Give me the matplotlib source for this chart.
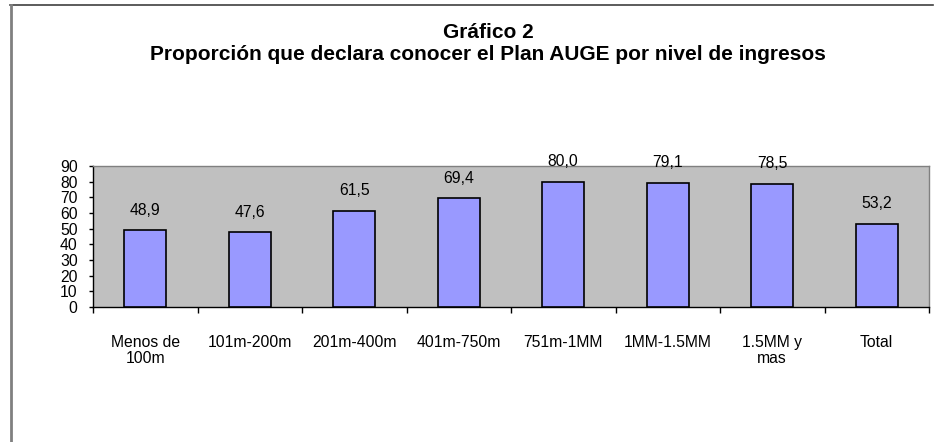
import matplotlib
matplotlib.use("Agg")
import matplotlib.pyplot as plt
from matplotlib.lines import Line2D

plt.rcParams['font.family'] = ['Liberation Sans', 'DejaVu Sans']

categories = ["Menos de\n100m", "101m-200m", "201m-400m", "401m-750m",
              "751m-1MM", "1MM-1.5MM", "1.5MM y\nmas", "Total"]
values = [48.9, 47.6, 61.5, 69.4, 80.0, 79.1, 78.5, 53.2]
yticks = [0, 10, 20, 30, 40, 50, 60, 70, 80, 90]
title_lines = ["Gráfico 2",
               "Proporción que declara conocer el Plan AUGE por nivel de ingresos"]

W, H = 934, 442
fig = plt.figure(figsize=(W / 100, H / 100), dpi=100)
ax = fig.add_axes([93 / W, 1 - 307 / H, (929 - 93) / W, (307 - 166) / H])
ax.set_facecolor('#c0c0c0')

x = list(range(len(categories)))
ax.bar(x, values, width=0.4, color='#9999ff', edgecolor='black', linewidth=1.2, zorder=3)
for xi, v in zip(x, values):
    ax.annotate(f"{v:.1f}".replace('.', ','), (xi, v), xytext=(0, 14.5),
                textcoords='offset points', ha='center', va='center', fontsize=11.3)

ax.set_xlim(-0.5, len(categories) - 0.5)
ax.set_ylim(0, 90)
ax.set_yticks(yticks)
ax.set_yticklabels([str(t) for t in yticks], fontsize=11.3)
ax.yaxis.set_tick_params(length=3, width=1, pad=8)

ax.set_xticks(x)
ax.set_xticklabels(categories, fontsize=11.3, linespacing=1.05)
ax.tick_params(axis='x', length=0, pad=20.5)
ax.set_xticks([i - 0.5 for i in range(len(categories) + 1)], minor=True)
ax.tick_params(axis='x', which='minor', length=4, width=1, direction='out')

for s in ['top', 'right']:
    ax.spines[s].set_color('#808080')
    ax.spines[s].set_linewidth(1)
for s in ['left', 'bottom']:
    ax.spines[s].set_color('black')
    ax.spines[s].set_linewidth(1)

fig.text(488 / W, 1 - 38 / H, title_lines[0], ha='center', va='baseline', fontsize=15,
         fontweight='bold')
fig.text(488 / W, 1 - 60 / H, title_lines[1], ha='center', va='baseline', fontsize=15,
         fontweight='bold')

fig.add_artist(Line2D([10 / W, 933 / W], [1 - 5 / H, 1 - 5 / H], color='#404040',
                      linewidth=1.2, transform=fig.transFigure))
fig.add_artist(Line2D([11 / W, 11 / W], [0, 1 - 5 / H], color='#808080',
                      linewidth=2, transform=fig.transFigure))

fig.savefig("out.png", dpi=100)
